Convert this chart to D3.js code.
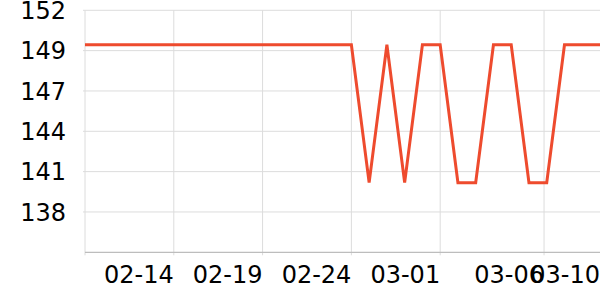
<!DOCTYPE html>
<html>
<head>
<meta charset="utf-8">
<script src="https://cdn.jsdelivr.net/npm/d3@7"></script>
<style>
  body { margin: 0; background: #fff; }
  svg { display: block; font-family: "DejaVu Sans", sans-serif; }
</style>
</head>
<body>
<svg id="chart" width="600" height="300"></svg>
<script>
// daily points, 2025-02-09 .. 2025-03-10
const days = d3.timeDay.range(new Date(2025, 1, 9), new Date(2025, 2, 11))
const values = [
  149.75, 149.75, 149.75, 149.75, 149.75, 149.75, 149.75, 149.75, 149.75, 149.75,
  149.75, 149.75, 149.75, 149.75, 149.75, 149.75, 140.35, 149.75, 140.35, 149.75,
  149.75, 140.35, 140.35, 149.75, 149.75, 140.35, 140.35, 149.75, 149.75, 149.75
]
const yDomain = [135.6, 152.1]
const yTicks = [152.1, 149.35, 146.6, 143.85, 141.1, 138.35]
// x ticks as they sit in the original (the 03-06 one is off the day boundary)
const xTicks = [
  new Date(2025, 1, 14), new Date(2025, 1, 19), new Date(2025, 1, 24),
  new Date(2025, 2, 1), new Date(2025, 2, 6, 20, 24)
]
const xLabels = ['02-14', '02-19', '02-24', '03-01', '03-06', '03-10']

const mLeft = 85, mRight = 600, mTop = 10.3, mBottom = 252.3
const svg = d3.select('#chart')

const x = d3.scaleTime().domain([days[0], days[days.length - 1]]).range([mLeft, mRight])
const y = d3.scaleLinear().domain(yDomain).range([mBottom, mTop])

//======== grid ========//
svg.append('g')
  .selectAll('line')
  .data(yTicks)
  .join('line')
  .attr('x1', mLeft - 2)
  .attr('x2', mRight)
  .attr('y1', d => y(d))
  .attr('y2', d => y(d))
  .attr('stroke', '#dcdcdc')
  .attr('stroke-width', 1)

svg.append('g')
  .selectAll('line')
  .data([days[0], ...xTicks])
  .join('line')
  .attr('x1', d => x(d))
  .attr('x2', d => x(d))
  .attr('y1', mTop)
  .attr('y2', mBottom + 3)
  .attr('stroke', '#dcdcdc')
  .attr('stroke-width', 1)

// x axis line
svg.append('line')
  .attr('x1', mLeft)
  .attr('x2', mRight)
  .attr('y1', mBottom)
  .attr('y2', mBottom)
  .attr('stroke', '#bdbdbd')
  .attr('stroke-width', 1.3)

//======== labels ========//
svg.append('g')
  .selectAll('text')
  .data(yTicks)
  .join('text')
  .attr('x', 66)
  .attr('y', d => y(d))
  .attr('dy', '0.36em')
  .attr('text-anchor', 'end')
  .attr('font-size', 24)
  .attr('fill', '#000')
  .text(d3.format('.0f'))

svg.append('g')
  .selectAll('text')
  .data([...xTicks, days[days.length - 1]])
  .join('text')
  .attr('x', d => x(d))
  .attr('y', 283)
  .attr('text-anchor', 'end')
  .attr('font-size', 24)
  .attr('fill', '#000')
  .text((d, i) => xLabels[i])

//======== line ========//
const line = d3.line()
  .x((d, i) => x(days[i]))
  .y(d => y(d))

svg.append('path')
  .datum(values)
  .attr('d', line)
  .attr('fill', 'none')
  .attr('stroke', '#ee4b2e')
  .attr('stroke-width', 3)
  .attr('stroke-linejoin', 'miter')
</script>
</body>
</html>
